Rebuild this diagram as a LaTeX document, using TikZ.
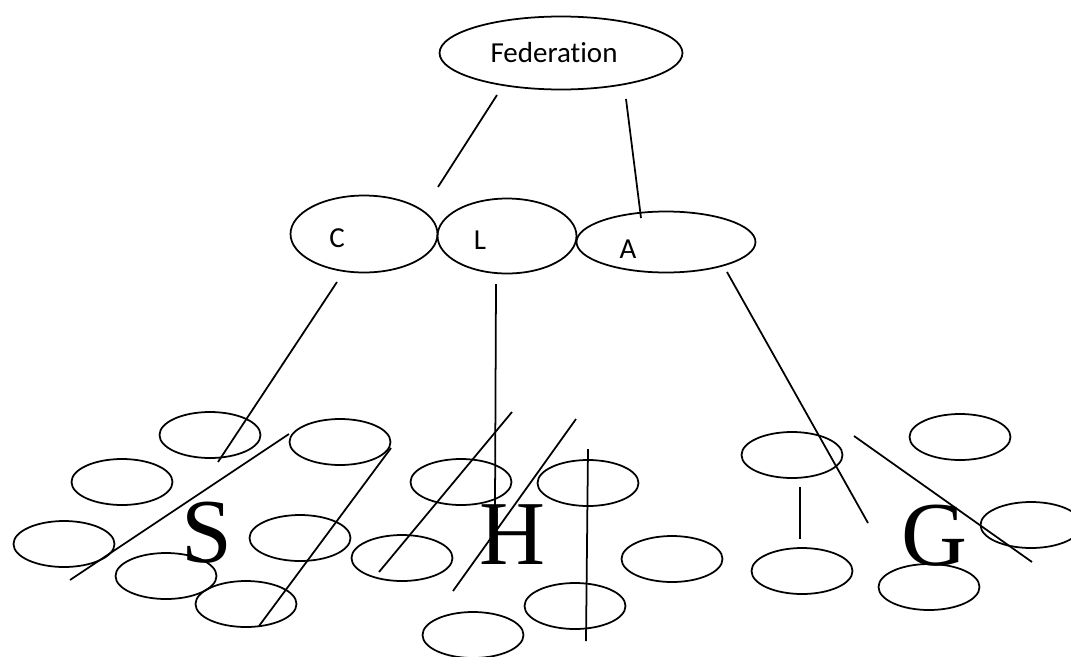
\documentclass[tikz,border=0pt]{standalone}
\usepackage{fontspec}
\setmainfont[Ligatures=NoCommon]{Carlito}
\newfontfamily\bigserif{Liberation Serif}
\usetikzlibrary{shapes.geometric}

\begin{document}
\begin{tikzpicture}[x=0.02cm, y=-0.02cm, line width=1pt,
  blob/.style={ellipse, draw, inner sep=0pt, minimum width=2.02cm, minimum height=0.92cm},
  tag/.style={font=\fontsize{16.5}{16.5}\selectfont, inner sep=0pt},
  letter/.style={font=\bigserif\fontsize{52}{52}\selectfont, inner sep=0pt}]
  \useasboundingbox (0,0) rectangle (1071,656);

  % top level
  \node[ellipse, draw, inner sep=0pt, minimum width=4.86cm, minimum height=1.46cm] (fed) at (561,53) {};
  \node[tag] (fedtxt) at (554,53) {Federation};

  \node[ellipse, draw, inner sep=0pt, minimum width=2.94cm, minimum height=1.54cm] (cc) at (364,234) {};
  \node[tag] (ctxt) at (337,238) {C};
  \node[ellipse, draw, inner sep=0pt, minimum width=2.78cm, minimum height=1.50cm] (ll) at (507,236) {};
  \node[tag] (ltxt) at (480,240) {L};
  \node[ellipse, draw, inner sep=0pt, minimum width=3.58cm, minimum height=1.22cm] (aa) at (666,242) {};
  \node[tag] (atxt) at (628,249) {A};

  \draw (497,95) -- (438,187);
  \draw (626,99) -- (641,218);

  % lines down to the groups
  \draw (337,282) -- (218,462);
  \draw (496,284) -- (495,505);
  \draw (727,272) -- (868,523);

  % S group
  \node[blob] (s1) at (210,435) {};
  \node[blob] (s2) at (340,442) {};
  \node[blob] (s3) at (122,482) {};
  \node[blob] (s4) at (64,544) {};
  \node[blob] (s5) at (300,538) {};
  \node[blob] (s6) at (166,576) {};
  \node[blob] (s7) at (246,604) {};
  \node[letter] (sl) at (207,533) {S};
  \draw (70,580) -- (289,434);
  \draw (391,448) -- (259,626);

  % H group
  \node[blob] (h1) at (461,482) {};
  \node[blob] (h2) at (588,483) {};
  \node[blob] (h3) at (402,558) {};
  \node[blob] (h4) at (672,559) {};
  \node[blob] (h5) at (575,606) {};
  \node[blob] (h6) at (473,635) {};
  \node[letter] (hl) at (512,535) {H};
  \draw (512,412) -- (379,572);
  \draw (576,419) -- (453,591);
  \draw (588,449) -- (586,641);

  % G group
  \node[blob] (g1) at (792,455) {};
  \node[blob] (g2) at (960,437) {};
  \node[blob] (g3) at (1031,525) {};
  \node[blob] (g4) at (802,571) {};
  \node[blob] (g5) at (929,587) {};
  \node[letter] (gl) at (934,536) {G};
  \draw (800,487) -- (800,539);
  \draw (854,436) -- (1032,562);
\end{tikzpicture}
\end{document}
